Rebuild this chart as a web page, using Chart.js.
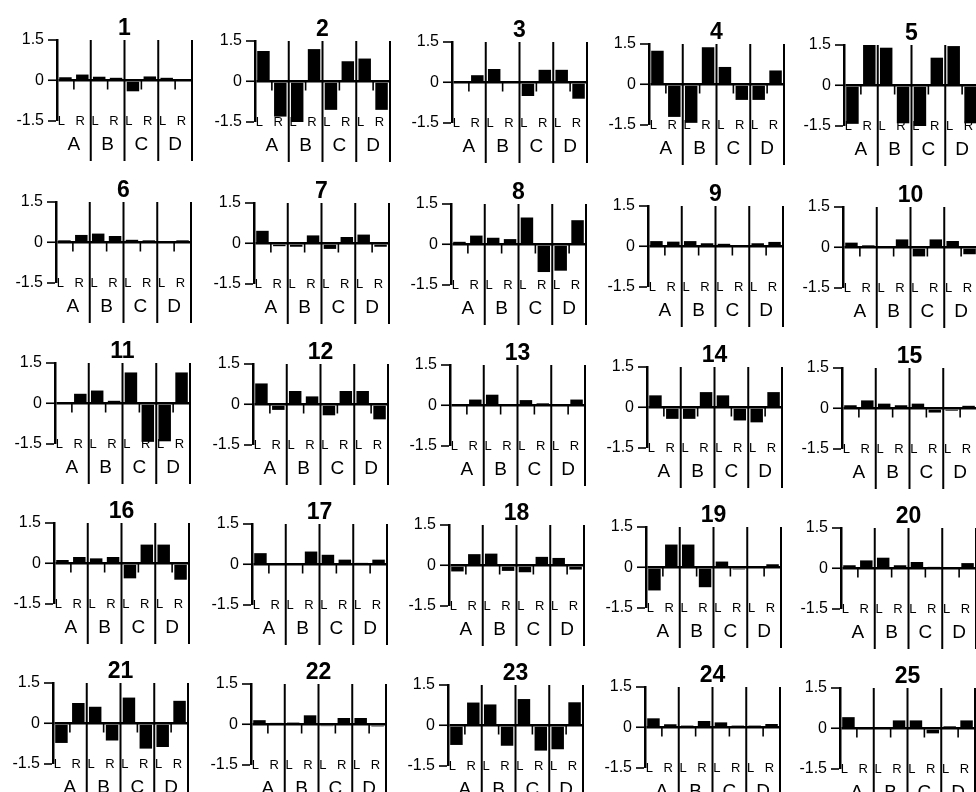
<!DOCTYPE html>
<html>
<head>
<meta charset="utf-8">
<title>Panels 1-25</title>
<script src="https://cdn.jsdelivr.net/npm/chart.js@4.4.1/dist/chart.umd.min.js"></script>
<style>
  html, body { margin: 0; padding: 0; background: #fff; }
  #page { position: relative; width: 976px; height: 792px; overflow: hidden; background: #fff; }
  #page canvas { position: absolute; }
</style>
</head>
<body>
<div id="page"></div>
<script>
/* Categories and ticks */
const sides = ['L', 'R', 'L', 'R', 'L', 'R', 'L', 'R'];
const groups = ['A', 'B', 'C', 'D'];
const yTicks = [-1.5, 0, 1.5];
const yTickLabels = ['-1.5', '0', '1.5'];

/* One array per panel: A-L, A-R, B-L, B-R, C-L, C-R, D-L, D-R */
const p01 = [0.12, 0.22, 0.14, 0.10, -0.40, 0.15, 0.10, 0.02];
const p02 = [1.13, -1.30, -1.50, 1.20, -1.05, 0.75, 0.85, -1.05];
const p03 = [0.05, 0.27, 0.50, 0.05, -0.50, 0.47, 0.47, -0.60];
const p04 = [1.25, -1.20, -1.42, 1.38, 0.65, -0.57, -0.57, 0.52];
const p05 = [-1.42, 1.50, 1.40, -1.40, -1.50, 1.03, 1.46, -1.40];
const p06 = [0.08, 0.28, 0.33, 0.24, 0.10, 0.08, 0.02, 0.08];
const p07 = [0.47, -0.10, -0.12, 0.30, -0.20, 0.24, 0.33, -0.12];
const p08 = [0.10, 0.33, 0.25, 0.20, 1.00, -1.02, -0.97, 0.90];
const p09 = [0.20, 0.18, 0.20, 0.12, 0.10, 0.01, 0.12, 0.17];
const p10 = [0.18, 0.08, 0.05, 0.30, -0.33, 0.30, 0.24, -0.25];
const p11 = [0.02, 0.36, 0.48, 0.10, 1.15, -1.42, -1.40, 1.15];
const p12 = [0.78, -0.20, 0.50, 0.30, -0.40, 0.50, 0.50, -0.55];
const p13 = [0.02, 0.22, 0.40, 0.01, 0.20, 0.08, 0.01, 0.22];
const p14 = [0.45, -0.42, -0.42, 0.57, 0.45, -0.48, -0.55, 0.57];
const p15 = [0.12, 0.30, 0.18, 0.12, 0.18, -0.15, -0.08, 0.10];
const p16 = [0.13, 0.24, 0.19, 0.24, -0.55, 0.70, 0.70, -0.60];
const p17 = [0.42, 0.02, 0.05, 0.48, 0.36, 0.18, 0.06, 0.18];
const p18 = [-0.22, 0.42, 0.44, -0.20, -0.25, 0.32, 0.28, -0.15];
const p19 = [-0.85, 0.85, 0.85, -0.73, 0.22, -0.07, 0.01, 0.12];
const p20 = [0.12, 0.30, 0.40, 0.12, 0.24, 0.06, 0.01, 0.20];
const p21 = [-0.72, 0.76, 0.62, -0.63, 0.96, -0.93, -0.87, 0.84];
const p22 = [0.16, 0.06, 0.07, 0.34, -0.06, 0.24, 0.24, -0.07];
const p23 = [-0.72, 0.85, 0.78, -0.75, 0.98, -0.93, -0.88, 0.86];
const p24 = [0.34, 0.12, 0.07, 0.24, 0.19, 0.07, 0.07, 0.13];
const p25 = [0.42, -0.05, 0.05, 0.30, 0.30, -0.18, 0.08, 0.30];

const panels = [p01, p02, p03, p04, p05, p06, p07, p08, p09, p10,
                p11, p12, p13, p14, p15, p16, p17, p18, p19, p20,
                p21, p22, p23, p24, p25];
const panelTitles = panels.map((_, i) => String(i + 1));

/* Page layout (where each panel's y axis and 1.5 line sit) */
const colAxisX = [57, 255, 452, 649, 844];
const rowTopY = [40, 202, 363, 523, 683];
const AXIS_W = 57, PAD_TOP = 40, PLOT_H = 81, PLOT_W = 135, PAD_RIGHT = 6, PAD_BOTTOM = 50;
const FONT = '"Liberation Sans", Arial, Helvetica, sans-serif';

/* Draws the L/R labels under the bars */
const sideLabels = {
    id: 'sideLabels',
    beforeDatasetsDraw(chart) {
        const {ctx, scales: {x, y}} = chart;
        const bottom = y.getPixelForValue(yTicks[0]);
        ctx.save();
        ctx.fillStyle = '#000';
        ctx.font = '13px ' + FONT;
        ctx.textAlign = 'center';
        ctx.textBaseline = 'middle';
        sides.forEach((s, i) => {
            ctx.fillText(s, x.getPixelForValue(i) + (i % 2 ? -2 : -4), bottom);
        });
        ctx.restore();
    }
};

/* Group separators, centre ticks, A-D labels and panel number */
const panelDecor = {
    id: 'panelDecor',
    afterDraw(chart, args, opts) {
        const {ctx, chartArea, scales: {x, y}} = chart;
        const top = y.getPixelForValue(yTicks[2]);
        const bottom = y.getPixelForValue(yTicks[0]);
        const zero = y.getPixelForValue(0);
        const half = (x.getPixelForValue(1) - x.getPixelForValue(0)) / 2;
        ctx.save();
        ctx.strokeStyle = '#000';
        ctx.fillStyle = '#000';
        groups.forEach((g, i) => {
            const sx = x.getPixelForValue(i * 2 + 1) + half;
            ctx.lineWidth = 2;
            ctx.beginPath();
            ctx.moveTo(sx, top);
            ctx.lineTo(sx, bottom + 40);
            ctx.stroke();
            const mx = x.getPixelForValue(i * 2) + half;
            ctx.lineWidth = 1.6;
            ctx.beginPath();
            ctx.moveTo(mx, zero);
            ctx.lineTo(mx, zero + 9);
            ctx.stroke();
        });
        ctx.textAlign = 'center';
        ctx.textBaseline = 'middle';
        ctx.font = '19px ' + FONT;
        groups.forEach((g, i) => {
            ctx.fillText(g, x.getPixelForValue(i * 2) + half, bottom + 24);
        });
        ctx.textBaseline = 'alphabetic';
        ctx.font = 'bold 23px ' + FONT;
        ctx.fillText(opts.title, (chartArea.left + chartArea.right) / 2, top - 5);
        ctx.restore();
    }
};

const page = document.getElementById('page');

panels.forEach((values, n) => {
    const r = Math.floor(n / 5), c = n % 5;
    const axisX = colAxisX[c] - r;
    const topY = rowTopY[r] + c * 1.2;

    const canvas = document.createElement('canvas');
    const w = AXIS_W + PLOT_W + PAD_RIGHT, h = PAD_TOP + PLOT_H + PAD_BOTTOM;
    canvas.width = w;
    canvas.height = h;
    canvas.style.width = w + 'px';
    canvas.style.height = h + 'px';
    canvas.style.left = (axisX - AXIS_W) + 'px';
    canvas.style.top = (topY - PAD_TOP) + 'px';
    page.appendChild(canvas);

    new Chart(canvas, {
        type: 'bar',
        data: {
            labels: sides,
            datasets: [{
                data: values,
                backgroundColor: '#000',
                borderWidth: 0,
                barPercentage: 0.74,
                categoryPercentage: 1.0
            }]
        },
        options: {
            responsive: false,
            animation: false,
            layout: { padding: { top: PAD_TOP, bottom: PAD_BOTTOM, left: 0, right: PAD_RIGHT } },
            plugins: {
                legend: { display: false },
                tooltip: { enabled: false },
                panelDecor: { title: panelTitles[n] }
            },
            scales: {
                x: { display: false },
                y: {
                    min: yTicks[0],
                    max: yTicks[2],
                    afterBuildTicks: (scale) => { scale.ticks = yTicks.map(v => ({ value: v })); },
                    afterFit: (scale) => {
                        scale.width = AXIS_W;
                        scale.paddingTop = 0;
                        scale.paddingBottom = 0;
                    },
                    border: { display: true, color: '#000', width: 2.5 },
                    grid: {
                        drawOnChartArea: true,
                        drawTicks: true,
                        tickLength: 9,
                        tickColor: '#000',
                        tickWidth: 1.6,
                        color: '#000',
                        lineWidth: (ctx) => (ctx.tick && ctx.tick.value === 0 ? 2.5 : 0)
                    },
                    ticks: {
                        color: '#000',
                        padding: 4,
                        font: { family: FONT, size: 16 },
                        callback: (v) => yTickLabels[yTicks.indexOf(v)]
                    }
                }
            }
        },
        plugins: [sideLabels, panelDecor]
    });
});
</script>
</body>
</html>
